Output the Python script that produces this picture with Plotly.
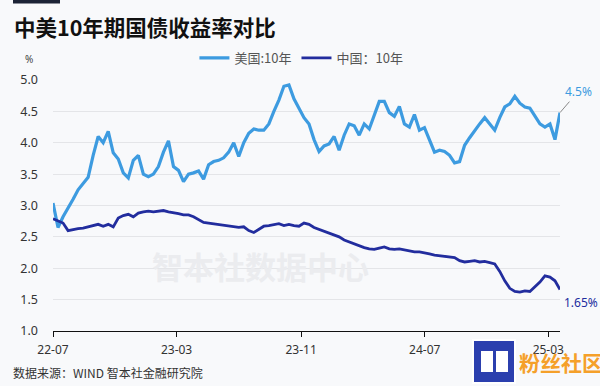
import pandas as pd
import plotly.graph_objects as go

# ---- data ----
start_date = "2022-07-01"
end_date = "2025-03-24"

us_10y = [3.04, 2.65, 2.82, 2.95, 3.10, 3.25, 3.35, 3.45, 3.80, 4.10,
          4.00, 4.18, 3.84, 3.74, 3.52, 3.44, 3.72, 3.80, 3.50, 3.46,
          3.50, 3.62, 3.85, 4.03, 3.62, 3.56, 3.38, 3.50, 3.52, 3.55,
          3.42, 3.65, 3.70, 3.72, 3.76, 3.85, 4.00, 3.78, 4.00, 4.15,
          4.22, 4.20, 4.20, 4.30, 4.50, 4.68, 4.90, 4.92, 4.70, 4.55,
          4.40, 4.30, 4.05, 3.86, 3.95, 3.98, 4.10, 3.88, 4.12, 4.30,
          4.27, 4.12, 4.30, 4.22, 4.45, 4.66, 4.66, 4.48, 4.42, 4.58,
          4.30, 4.25, 4.45, 4.20, 4.24, 4.05, 3.85, 3.88, 3.86, 3.80,
          3.68, 3.70, 3.96, 4.08, 4.20, 4.30, 4.40, 4.30, 4.20, 4.40,
          4.57, 4.62, 4.74, 4.63, 4.57, 4.55, 4.42, 4.30, 4.25, 4.30,
          4.05, 4.48]

cn_10y = [2.79, 2.76, 2.72, 2.60, 2.62, 2.63, 2.64, 2.66, 2.68, 2.70,
          2.67, 2.70, 2.66, 2.80, 2.84, 2.86, 2.82, 2.88, 2.90, 2.91,
          2.90, 2.91, 2.92, 2.90, 2.89, 2.87, 2.85, 2.85, 2.82, 2.78,
          2.73, 2.72, 2.71, 2.70, 2.68, 2.67, 2.66, 2.65, 2.66, 2.60,
          2.57, 2.62, 2.67, 2.68, 2.69, 2.71, 2.68, 2.70, 2.68, 2.67,
          2.72, 2.70, 2.65, 2.62, 2.60, 2.56, 2.53, 2.50, 2.45, 2.42,
          2.38, 2.36, 2.33, 2.31, 2.30, 2.32, 2.34, 2.31, 2.30, 2.31,
          2.29, 2.27, 2.26, 2.26, 2.25, 2.23, 2.21, 2.20, 2.20, 2.18,
          2.17, 2.12, 2.10, 2.11, 2.12, 2.10, 2.11, 2.09, 2.07, 1.95,
          1.80, 1.68, 1.63, 1.62, 1.64, 1.63, 1.70, 1.78, 1.88, 1.86,
          1.80, 1.66]

dates = pd.date_range(start_date, end_date, periods=len(us_10y))

tick_dates = ["2022-07-01", "2023-03-01", "2023-11-01", "2024-07-01", "2025-03-01"]
tick_labels = ["22-07", "23-03", "23-11", "24-07", "25-03"]
y_ticks = [1.0, 1.5, 2.0, 2.5, 3.0, 3.5, 4.0, 4.5, 5.0]

us_name = "美国:10年"
cn_name = "中国：10年"
us_label = "4.5%"
cn_label = "1.65%"

# ---- style ----
W, H = 600, 386
L, R, T, B = 53, 560, 80, 331
BG = "#f8f9fb"
US_COLOR = "#3d9be0"
CN_COLOR = "#222d9e"
CJK = "Noto Sans CJK SC"


def px(x):
    return (x - L) / (R - L)


def py(y):
    return (B - y) / (B - T)


fig = go.Figure()
fig.add_trace(go.Scatter(x=dates, y=us_10y, name=us_name, mode="lines",
                         line=dict(color=US_COLOR, width=3.2)))
fig.add_trace(go.Scatter(x=dates, y=cn_10y, name=cn_name, mode="lines",
                         line=dict(color=CN_COLOR, width=2.8)))

fig.update_layout(
    width=W, height=H,
    margin=dict(l=L, r=W - R, t=T, b=H - B),
    paper_bgcolor=BG, plot_bgcolor=BG,
    font=dict(family=CJK, size=12, color="#333333"),
    showlegend=True,
    legend=dict(orientation="h", x=0.49, xanchor="center", y=py(58), yanchor="middle",
                font=dict(family=CJK, size=13, color="#555555"),
                bgcolor="rgba(0,0,0,0)", itemwidth=30, tracegroupgap=0),
    xaxis=dict(type="date", range=[start_date, end_date],
               tickvals=tick_dates, ticktext=tick_labels,
               showgrid=False, showline=True, linecolor="#111111", linewidth=1,
               ticks="outside", ticklen=5, tickcolor="#111111",
               ticklabelstandoff=3,
               tickfont=dict(family="Noto Sans", size=12, color="#333333"),
               zeroline=False),
    yaxis=dict(range=[1.0, 5.0], tickvals=y_ticks, tickformat=".1f",
               showgrid=True, gridcolor="#e4e5e8", gridwidth=1,
               showline=False, zeroline=False, ticks="",
               ticklabelstandoff=14,
               tickfont=dict(family="Noto Sans", size=12.5, color="#333333")),
)

# watermark
fig.add_annotation(xref="paper", yref="paper", x=px(260), y=py(265),
                   text="<b>智本社数据中心</b>", showarrow=False,
                   font=dict(family=CJK, size=31, color="#ebecef"),
                   xanchor="center", yanchor="middle")

# title and decorations
fig.add_shape(type="rect", xref="paper", yref="paper",
              x0=px(13), x1=px(60), y0=py(0), y1=py(3.5),
              fillcolor="#1c2336", line=dict(width=0))
fig.add_annotation(xref="paper", yref="paper", x=px(12), y=py(27),
                   text="<b>中美10年期国债收益率对比</b>", showarrow=False,
                   font=dict(family=CJK, size=21.5, color="#111111"),
                   xanchor="left", yanchor="middle")
fig.add_annotation(xref="paper", yref="paper", x=px(29), y=py(59),
                   text="%", showarrow=False,
                   font=dict(family="Noto Sans", size=10, color="#444444"),
                   xanchor="center", yanchor="middle")
fig.add_annotation(xref="paper", yref="paper", x=px(11), y=py(372),
                   text="数据来源：WIND 智本社金融研究院", showarrow=False,
                   font=dict(family=CJK, size=12, color="#333333"),
                   xanchor="left", yanchor="middle")

# end labels
fig.add_annotation(x=dates[-1], y=us_10y[-1], text=us_label, showarrow=True,
                   arrowhead=0, arrowwidth=1, arrowcolor="#888888",
                   ax=18, ay=-21, standoff=0,
                   font=dict(family="Noto Sans", size=12, color=US_COLOR))
fig.add_annotation(x=dates[-1], y=cn_10y[-1], text=cn_label, showarrow=False,
                   xshift=21, yshift=-13,
                   font=dict(family="Noto Sans", size=12, color=CN_COLOR))

# platform badge, bottom right
fig.add_shape(type="rect", xref="paper", yref="paper",
              x0=px(473), x1=px(515), y0=py(383), y1=py(340),
              fillcolor="#2b3fae", line=dict(color="#ffffff", width=2))
fig.add_shape(type="rect", xref="paper", yref="paper",
              x0=px(481), x1=px(493), y0=py(372), y1=py(351),
              fillcolor="#ffffff", line=dict(width=0))
fig.add_shape(type="rect", xref="paper", yref="paper",
              x0=px(496), x1=px(508), y0=py(372), y1=py(351),
              fillcolor="#ffffff", line=dict(width=0))
fig.add_annotation(xref="paper", yref="paper", x=px(517), y=py(362),
                   text="<b>粉丝社区</b>", showarrow=False,
                   font=dict(family=CJK, size=21, color="#f5a02a"),
                   xanchor="left", yanchor="middle")

fig.write_html("out.html", config={"displayModeBar": False},
               post_script="document.body.style.margin='0';")
